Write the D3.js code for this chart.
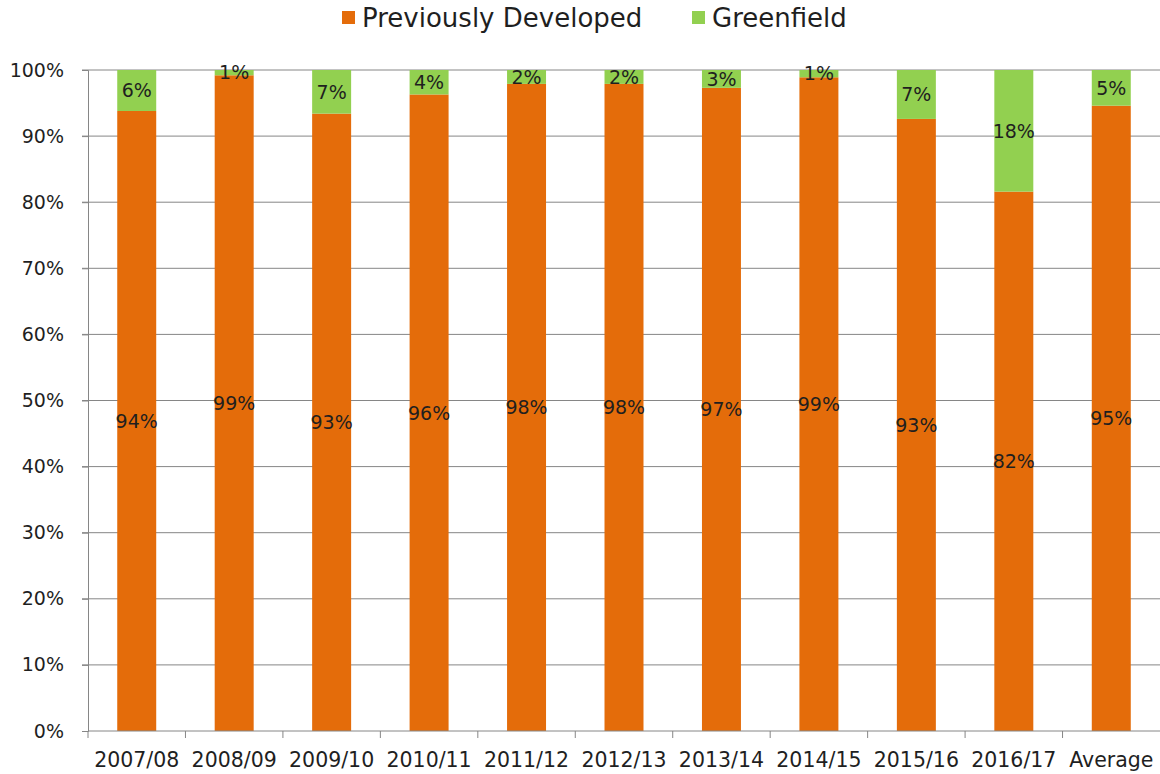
<!DOCTYPE html>
<html><head><meta charset="utf-8">
<script src="https://cdn.jsdelivr.net/npm/d3@7"></script>
<style>body{margin:0;background:#fff}svg{display:block}</style>
</head><body>
<svg id="c" width="1160" height="774"></svg>
<script>
const categories = ["2007/08","2008/09","2009/10","2010/11","2011/12","2012/13","2013/14","2014/15","2015/16","2016/17","Average"];
const previouslyDeveloped = [93.8, 99.2, 93.4, 96.3, 97.9, 97.9, 97.3, 98.9, 92.6, 81.6, 94.6];
const greenfield = [6.2, 0.8, 6.6, 3.7, 2.1, 2.1, 2.7, 1.1, 7.4, 18.4, 5.4];
const seriesNames = ["Previously Developed", "Greenfield"];
const yTicks = [0,10,20,30,40,50,60,70,80,90,100];

const W = 1160, H = 774;
const m = {left: 88, right: 0, top: 70, bottom: 43};
const svg = d3.select("#c");
const font = "'DejaVu Sans', Verdana, sans-serif";
const colors = {"Previously Developed": "#E46C0A", "Greenfield": "#92D050"};
const textColor = "#1f1f1f";

const x = d3.scaleBand().domain(categories).range([m.left, W - m.right]).paddingInner(0.6).paddingOuter(0.3);
const xb = d3.scaleBand().domain(categories).range([m.left, W - m.right]);
const y = d3.scaleLinear().domain([0,100]).range([H - m.bottom, m.top]);

// gridlines
svg.append("g").selectAll("line").data(yTicks.filter(t => t > 0)).join("line")
  .attr("x1", m.left - 6).attr("x2", W - m.right)
  .attr("y1", d => y(d)).attr("y2", d => y(d))
  .attr("stroke", "#868686").attr("stroke-width", 1);

// bars
const stackData = categories.map((c,i) => ({cat: c, "Previously Developed": previouslyDeveloped[i], "Greenfield": greenfield[i]}));
const stack = d3.stack().keys(seriesNames)(stackData);
const gb = svg.append("g");
stack.forEach(s => {
  gb.append("g").attr("fill", colors[s.key]).selectAll("rect").data(s).join("rect")
    .attr("x", d => x(d.data.cat)).attr("width", x.bandwidth())
    .attr("y", d => y(d[1])).attr("height", d => y(d[0]) - y(d[1]));
});
// labels
stack.forEach(s => {
  svg.append("g").selectAll("text").data(s).join("text")
    .attr("x", d => x(d.data.cat) + x.bandwidth()/2)
    .attr("y", d => (y(d[0]) + y(d[1]))/2)
    .attr("dy", "0.36em")
    .attr("text-anchor", "middle")
    .attr("font-family", font).attr("font-size", 19).attr("fill", textColor)
    .text(d => Math.round(d[1]-d[0]) + "%");
});

// y axis
const ya = svg.append("g").attr("transform", `translate(${m.left},0)`)
  .call(d3.axisLeft(y).tickValues(yTicks).tickFormat(d => d + "%").tickSize(6).tickPadding(18));
ya.select(".domain").attr("stroke", "#868686");
ya.selectAll(".tick line").attr("stroke", "#868686");
ya.selectAll("text").attr("font-family", font).attr("font-size", 19).attr("fill", textColor);

// x axis
const xa = svg.append("g").attr("transform", `translate(0,${H - m.bottom})`);
xa.append("line").attr("x1", m.left).attr("x2", W).attr("y1", 0).attr("y2", 0).attr("stroke", "#868686");
xa.selectAll("line.t").data(categories).join("line").attr("class","t")
  .attr("x1", d => xb(d)).attr("x2", d => xb(d)).attr("y1", 0).attr("y2", 7).attr("stroke", "#868686");
xa.selectAll("text").data(categories).join("text")
  .attr("x", d => xb(d) + xb.bandwidth()/2).attr("y", 36)
  .attr("text-anchor", "middle").attr("font-family", font).attr("font-size", 20.5).attr("fill", textColor)
  .text(d => d);

// legend
const lg = svg.append("g");
const items = [{name: seriesNames[0], x: 342}, {name: seriesNames[1], x: 692}];
items.forEach(it => {
  lg.append("rect").attr("x", it.x).attr("y", 11).attr("width", 13).attr("height", 13).attr("fill", colors[it.name]);
  lg.append("text").attr("x", it.x + 20).attr("y", 27).attr("font-family", font).attr("font-size", 26).attr("fill", textColor).text(it.name);
});
</script>
</body></html>
